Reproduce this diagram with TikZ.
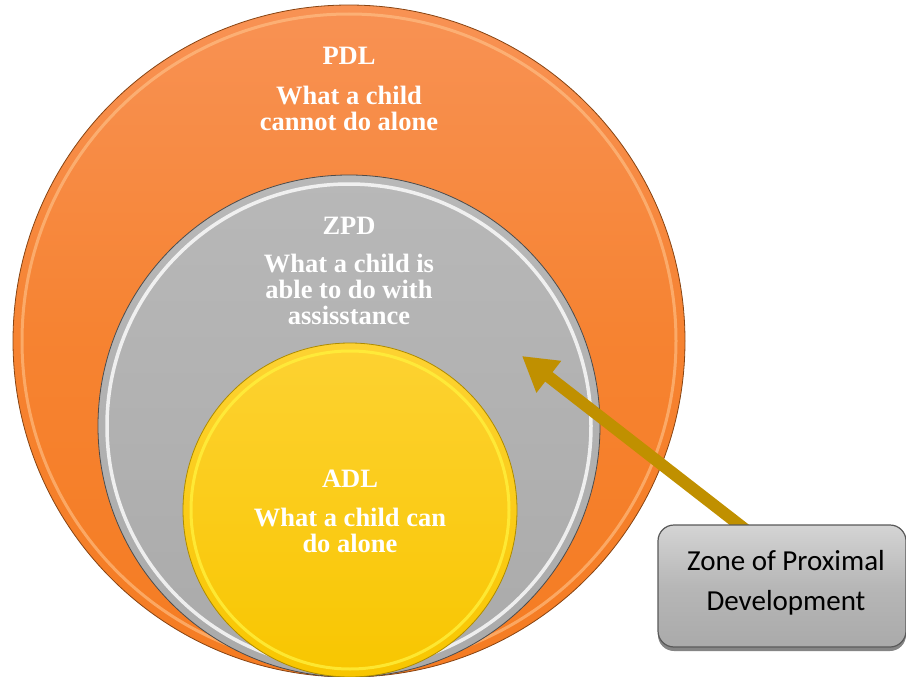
\documentclass[tikz,border=0pt]{standalone}
\usepackage{fontspec}
\setmainfont{Liberation Serif}[BoldFont={Liberation Serif Bold}]
\newfontfamily\boxfont{Carlito}
\usetikzlibrary{arrows.meta,shadows,calc}
\definecolor{orTop}{RGB}{248,146,84}
\definecolor{orBot}{RGB}{245,124,34}
\definecolor{orRim}{RGB}{255,196,140}
\definecolor{grTop}{RGB}{184,184,184}
\definecolor{grBot}{RGB}{170,170,170}
\definecolor{yeTop}{RGB}{253,210,50}
\definecolor{yeBot}{RGB}{248,198,0}
\definecolor{yeRim}{RGB}{255,240,60}
\definecolor{arrowGold}{RGB}{192,144,0}
\definecolor{boxTop}{RGB}{212,212,212}
\definecolor{boxBot}{RGB}{170,170,170}
\tikzset{
  ctitle/.style={anchor=base, text=white, font=\fontsize{26.5}{26}\selectfont\bfseries},
  ctext/.style={anchor=base, text=white, font=\fontsize{26.5}{26}\selectfont\bfseries},
  zbox/.style={rounded corners=16pt, draw=gray!70!black, line width=1.2pt,
    top color=boxTop, bottom color=boxBot, middle color=boxBot!85!white,
    minimum width=248pt, minimum height=122pt, inner sep=0pt,
    drop shadow={shadow xshift=0pt, shadow yshift=-4pt, fill=black!60, opacity=0.8}},
  btext/.style={anchor=base, text=black, font=\boxfont\fontsize{29}{29}\selectfont},
  goldarrow/.style={draw=arrowGold, line width=12pt, -{Triangle[length=34pt,width=38pt]}}
}
\begin{document}
\begin{tikzpicture}[x=1pt,y=-1pt]
\useasboundingbox (0,0) rectangle (906,677);
% outer circle (PDL)
\shade[top color=orTop, bottom color=orBot, middle color=orBot!70!orTop] (349,341) circle (336);
\draw[draw=orBot!55!black, line width=0.8pt] (349,341) circle (336);
\draw[draw=orRim, line width=3pt, opacity=0.6] (349,341) circle (327);
% middle circle (ZPD)
\shade[top color=grTop, bottom color=grBot] (349,426) circle (251);
\draw[draw=gray!60!black, line width=0.8pt] (349,426) circle (251);
\draw[draw=white, line width=3.5pt, opacity=0.8] (349,426) circle (242);
% inner circle (ADL)
\shade[top color=yeTop, bottom color=yeBot] (350,510) circle (167);
\draw[draw=yeBot!70!black, line width=0.8pt] (350,510) circle (167);
\draw[draw=yeRim, line width=3pt, opacity=0.8] (350,510) circle (159);
% texts
\node[ctitle] (pdl) at (349,65) {PDL};
\node[ctext] (pdl1) at (349,105) {What a child};
\node[ctext] (pdl2) at (349,131) {cannot do alone};
\node[ctitle] (zpd) at (349,234) {ZPD};
\node[ctext] (zpd1) at (349,272) {What a child is};
\node[ctext] (zpd2) at (349,298) {able to do with};
\node[ctext] (zpd3) at (349,324) {assisstance};
\node[ctitle] (adl) at (350,487) {ADL};
\node[ctext] (adl1) at (350,526) {What a child can};
\node[ctext] (adl2) at (350,552) {do alone};
% arrow and box
\coordinate (zpdpt) at (522,356);
\coordinate (arrstart) at (746,530);
\draw[goldarrow] (arrstart) -- (zpdpt);
\node[zbox] (box) at (782,586) {};
\node[btext] (b1) at (786,570) {Zone of Proximal};
\node[btext] (b2) at (786,610) {Development};
\end{tikzpicture}
\end{document}
